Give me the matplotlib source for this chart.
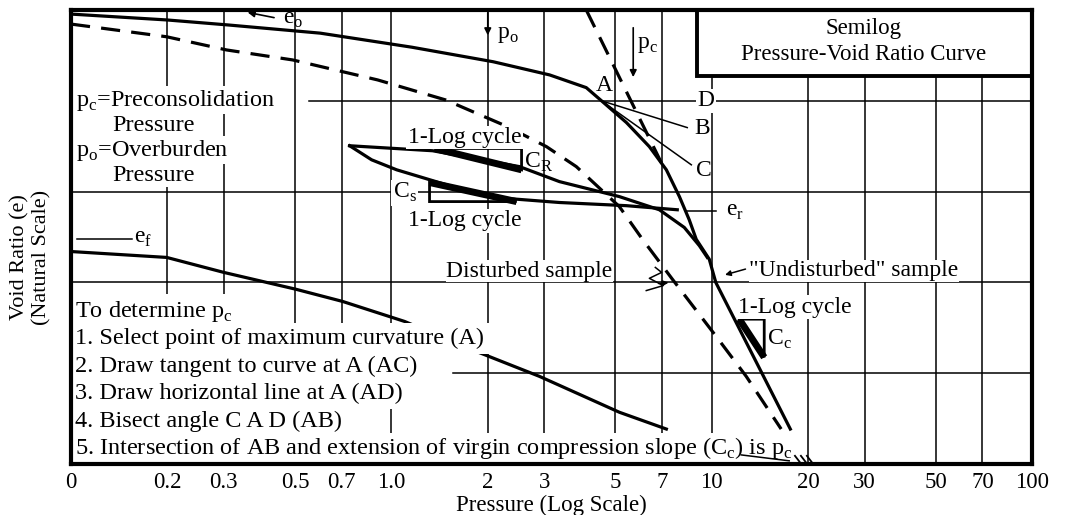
import matplotlib
matplotlib.use("Agg")
import matplotlib.pyplot as plt
from matplotlib.patches import Rectangle, Polygon

plt.rcParams['font.family'] = ['Liberation Serif', 'DejaVu Serif']
plt.rcParams['font.size'] = 17

# pressure axis ticks (log scale); the left edge is labelled "0"
tick_vals = [0.1, 0.2, 0.3, 0.5, 0.7, 1.0, 2, 3, 5, 7, 10, 20, 30, 50, 70, 100]
tick_text = ['0', '0.2', '0.3', '0.5', '0.7', '1.0', '2', '3', '5', '7',
             '10', '20', '30', '50', '70', '100']
e_grid = [0.8, 1.0, 1.2, 1.4]

# "undisturbed" sample, solid
p_und = [0.1, 0.2, 0.31, 0.6, 1.16, 2.08, 3.12, 4.06, 4.53, 5.42, 6.39, 7.22,
         7.93, 8.51, 8.95, 9.83, 10.3, 17.6]
e_und = [1.591, 1.578, 1.567, 1.549, 1.518, 1.486, 1.457, 1.429, 1.40, 1.352,
         1.299, 1.248, 1.189, 1.138, 1.095, 1.051, 1.0, 0.677]

# disturbed sample, dashed
p_dis = [0.1, 0.199, 0.306, 0.492, 0.906, 1.476, 2.305, 3.05, 3.78, 5.15,
         6.08, 7.54, 10.33, 12.82, 16.48]
e_dis = [1.569, 1.541, 1.512, 1.490, 1.446, 1.402, 1.343, 1.299, 1.255,
         1.167, 1.095, 1.007, 0.881, 0.793, 0.677]

# extension of virgin compression slope
p_ext = [4.06, 6.96]
e_ext = [1.60, 1.264]

# rebound loop: reload branch and unload branch
p_rel = [0.741, 1.345, 2.513, 3.348, 5.15, 6.865, 8.215, 9.15, 9.69]
e_rel = [1.301, 1.290, 1.255, 1.222, 1.189, 1.160, 1.121, 1.081, 1.055]
p_unl = [0.741, 0.868, 1.039, 1.553, 2.288, 3.348, 5.416, 7.81]
e_unl = [1.301, 1.270, 1.248, 1.211, 1.185, 1.176, 1.169, 1.160]

# lower curve down to e_f
p_ef = [0.1, 0.199, 0.300, 0.503, 0.705, 1.10, 1.767, 2.90, 5.15, 7.22]
e_ef = [1.068, 1.055, 1.022, 0.985, 0.958, 0.914, 0.853, 0.793, 0.714, 0.677]

# construction point A and the ends of AB and AC
pt_A = (4.53, 1.40)
pt_B = (8.39, 1.341)
pt_C = (8.64, 1.259)

# slope triangles: (p_left, p_right, e_high, e_low)
tri_R = (1.365, 2.55, 1.295, 1.248)
tri_S = (1.316, 2.46, 1.220, 1.178)
tri_C = (12.19, 14.59, 0.919, 0.835)

p_po, p_pc = 2.0, 5.69

steps = [r'To determine p$_\mathregular{c}$',
         '1. Select point of maximum curvature (A)',
         '2. Draw tangent to curve at A (AC)',
         '3. Draw horizontal line at A (AD)',
         '4. Bisect angle C A D (AB)',
         r'5. Intersection of AB and extension of virgin compression slope '
         r'(C$_\mathregular{c}$) is p$_\mathregular{c}$']

W, H = 1075, 515
fig = plt.figure(figsize=(W / 100, H / 100), dpi=100)
ax = fig.add_axes([71 / W, 1 - 464 / H, (1032 - 71) / W, (464 - 10) / H])
ax.set_xscale('log')
ax.set_xlim(0.1, 100)
ax.set_ylim(0.6, 1.6)

ax.set_xticks(tick_vals)
ax.set_xticklabels(tick_text, fontsize=16.5)
ax.minorticks_off()
ax.set_yticks([])
ax.tick_params(axis='x', length=0, pad=6)
for s in ax.spines.values():
    s.set_linewidth(3)
    s.set_zorder(6)

# grid
for v in tick_vals[1:-1]:
    ax.axvline(v, color='black', lw=1.1, zorder=0.5)
for e in e_grid:
    x0 = 0.0
    if e == 1.4:
        x0 = 0.248
    elif e == 0.8:
        x0 = 0.397
    ax.axhline(e, xmin=x0, color='black', lw=1.1, zorder=0.5)

bw = dict(facecolor='white', edgecolor='none', pad=1.0)

# curves
ax.plot(p_und, e_und, color='black', lw=2.3, zorder=2, solid_joinstyle='round')
ax.plot(p_dis, e_dis, color='black', lw=2.3, ls=(0, (6, 3.5)), zorder=2)
ax.plot(p_ext, e_ext, color='black', lw=2.3, ls=(0, (6, 3.5)), zorder=2)
ax.plot(p_rel, e_rel, color='black', lw=2.3, zorder=2, solid_joinstyle='round')
ax.plot(p_unl, e_unl, color='black', lw=2.3, zorder=2, solid_joinstyle='round')
ax.plot(p_ef, e_ef, color='black', lw=2.3, zorder=2, solid_joinstyle='round')

# construction lines from A
ax.plot([pt_A[0], pt_B[0]], [pt_A[1], pt_B[1]], color='black', lw=1.1, zorder=2)
ax.plot([pt_A[0], pt_C[0]], [pt_A[1], pt_C[1]], color='black', lw=1.1, zorder=2)
ax.text(4.63, 1.433, 'A', ha='center', va='center', zorder=4)
ax.text(9.62, 1.40, 'D', ha='center', va='center', zorder=4, bbox=bw)
ax.text(8.83, 1.338, 'B', ha='left', va='center', zorder=4)
ax.text(8.95, 1.246, 'C', ha='left', va='center', zorder=4)

# slope triangles
def triangle(t, corner):
    pl, pr, eh, el = t
    if corner == 'top':
        pts = [(pl, eh), (pr, eh), (pr, el)]
    else:
        pts = [(pl, eh), (pl, el), (pr, el)]
    ax.add_patch(Polygon(pts, closed=True, fill=False, ec='black', lw=2.0,
                         zorder=2.5))
    ax.plot([pl, pr], [eh, el], color='black', lw=5, zorder=2.6,
            solid_capstyle='butt')

triangle(tri_R, 'top')
triangle(tri_S, 'bottom')
triangle(tri_C, 'top')

ax.text(1.124, 1.307, '1-Log cycle', va='baseline', zorder=3, bbox=bw)
ax.text(2.60, 1.252, r'C$_\mathregular{R}$', va='baseline', zorder=3)
ax.text(1.199, 1.186, r'C$_\mathregular{s}$', ha='right', va='baseline',
        zorder=3, bbox=bw)
ax.text(1.124, 1.124, '1-Log cycle', va='baseline', zorder=3, bbox=bw)
ax.text(12.1, 0.933, '1-Log cycle', va='baseline', zorder=3, bbox=bw)
ax.text(14.9, 0.862, r'C$_\mathregular{c}$', va='baseline', zorder=3)

# e labels
ax.annotate('', xy=(0.349, 1.596), xytext=(0.439, 1.582),
            arrowprops=dict(arrowstyle='-|>', color='black', lw=1.2,
                            mutation_scale=10), zorder=3)
ax.text(0.458, 1.569, r'e$_\mathregular{o}$', va='baseline', zorder=3)
ax.plot([0.1044, 0.155], [1.095, 1.095], color='black', lw=1.1, zorder=2)
ax.text(0.157, 1.087, r'e$_\mathregular{f}$', va='baseline', zorder=3)
ax.plot([8.39, 10.33], [1.158, 1.158], color='black', lw=1.1, zorder=2)
ax.text(11.1, 1.146, r'e$_\mathregular{r}$', va='baseline', zorder=3)

# p_o and p_c arrows
ax.annotate('', xy=(p_po, 1.538), xytext=(p_po, 1.600),
            arrowprops=dict(arrowstyle='-|>', color='black', lw=1.2,
                            mutation_scale=10), zorder=3)
ax.text(2.13, 1.538, r'p$_\mathregular{o}$', va='baseline', zorder=3)
ax.annotate('', xy=(p_pc, 1.446), xytext=(p_pc, 1.567),
            arrowprops=dict(arrowstyle='-|>', color='black', lw=1.2,
                            mutation_scale=10), zorder=3)
ax.text(5.86, 1.516, r'p$_\mathregular{c}$', va='baseline', zorder=3)

# sample labels
ax.text(4.9, 1.012, 'Disturbed sample', ha='right', va='baseline', zorder=3,
        bbox=dict(facecolor='white', edgecolor='none', pad=0.3))
ax.plot([6.25, 7.06, 6.39, 6.98, 6.67], [0.982, 0.993, 1.009, 1.022, 1.033],
        color='black', lw=1.1, zorder=2)
ax.annotate('', xy=(7.48, 1.0), xytext=(6.7, 0.997),
            arrowprops=dict(arrowstyle='-|>', color='black', lw=1.1,
                            mutation_scale=8), zorder=3)
ax.text(13.1, 1.014, '"Undisturbed" sample', va='baseline', zorder=3,
        bbox=dict(facecolor='white', edgecolor='none', pad=0.3))
ax.annotate('', xy=(10.8, 1.015), xytext=(13.0, 1.031),
            arrowprops=dict(arrowstyle='-|>', color='black', lw=1.1,
                            mutation_scale=8), zorder=3)

# p_c / p_o definitions
ax.text(0.1036, 1.389, r'p$_\mathregular{c}$=Preconsolidation', va='baseline',
        zorder=3, bbox=bw, fontsize=17.5)
ax.text(0.135, 1.334, 'Pressure', va='baseline', zorder=3, bbox=bw,
        fontsize=17.5)
ax.text(0.1036, 1.279, r'p$_\mathregular{o}$=Overburden', va='baseline',
        zorder=3, bbox=bw, fontsize=17.5)
ax.text(0.135, 1.224, 'Pressure', va='baseline', zorder=3, bbox=bw,
        fontsize=17.5)

# procedure
for i, s in enumerate(steps):
    pad = 1.5 if i == len(steps) - 1 else 3.5
    ax.text(0.103, 0.924 - 0.0604 * i, s, va='baseline', zorder=3,
            fontsize=17.5,
            bbox=dict(facecolor='white', edgecolor='none', pad=pad))
ax.plot([12.37, 17.46], [0.62, 0.607], color='black', lw=1.1, zorder=3.5)
for ph in [18.76, 19.58, 20.44]:
    ax.plot([ph * 0.97, ph * 1.015], [0.618, 0.6], color='black', lw=1.3,
            zorder=3.5)

# title box
ax.add_patch(Rectangle((9.02, 1.455), 100 - 9.02, 0.145, facecolor='white',
                       edgecolor='black', lw=2.8, zorder=4))
ax.text(29.7, 1.560, 'Semilog', ha='center', va='center', zorder=5,
        fontsize=16.5)
ax.text(29.7, 1.501, 'Pressure-Void Ratio Curve', ha='center', va='center',
        zorder=5, fontsize=16.5)

ax.set_xlabel('Pressure (Log Scale)', labelpad=1, fontsize=16.5)
fig.text(31 / W, 1 - 257 / H, 'Void Ratio (e)\n(Natural Scale)', rotation=90,
         ha='center', va='center', multialignment='center', fontsize=16,
         linespacing=1.15)

fig.savefig('out.png', dpi=100)
